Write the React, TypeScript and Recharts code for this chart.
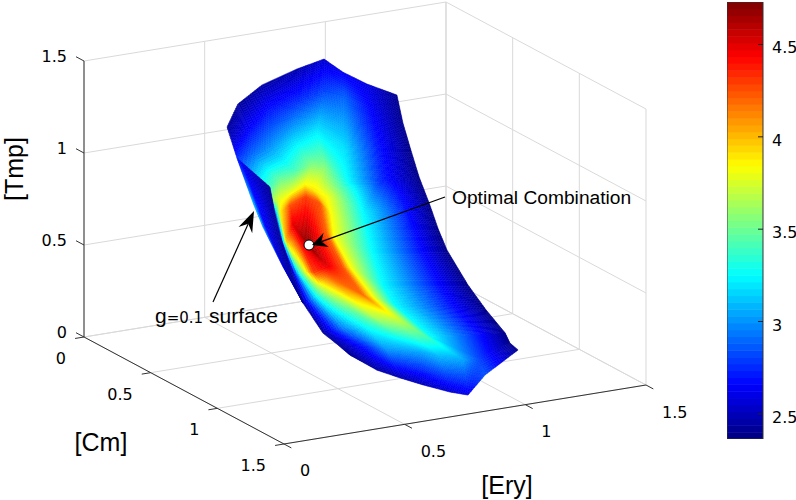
import React from "react";
import { ScatterChart, Scatter, XAxis, YAxis } from "recharts";

const axisTicks = [0, 0.5, 1, 1.5];
const colorTicks = [2.5, 3, 3.5, 4, 4.5];
const colorMin = 2.364;
const colorMax = 4.73;

// main sheet: one Cm per mesh row, Ery / Tmp / value per mesh vertex
const surfaceCm = [0.3, 0.3, 0.45, 0.45, 0.6, 0.6, 0.75, 0.9, 1.05, 1.2, 1.35, 1.35];
const surfaceEry = [
  [0.427, 0.472, 0.572, 0.717, 0.829, 0.907, 1.007, 1.131],
  [0.448, 0.522, 0.605, 0.721, 0.833, 0.916, 1.028, 1.156],
  [0.385, 0.448, 0.522, 0.617, 0.717, 0.833, 0.97, 1.106],
  [0.522, 0.564, 0.626, 0.696, 0.75, 0.849, 0.986, 1.14],
  [0.448, 0.481, 0.53, 0.584, 0.617, 0.675, 0.825, 1.102],
  [0.46, 0.481, 0.522, 0.588, 0.646, 0.692, 0.841, 1.135],
  [0.406, 0.423, 0.452, 0.514, 0.593, 0.622, 0.779, 1.09],
  [0.365, 0.394, 0.452, 0.514, 0.576, 0.605, 0.742, 1.094],
  [0.327, 0.381, 0.406, 0.439, 0.576, 0.617, 0.709, 1.086],
  [0.327, 0.406, 0.46, 0.543, 0.634, 0.729, 0.783, 1.082],
  [0.307, 0.427, 0.51, 0.646, 0.729, 0.825, 0.895, 1.019],
  [0.356, 0.468, 0.564, 0.659, 0.771, 0.845, 0.916, 1.053],
];
const surfaceTmp = [
  [1.166, 1.282, 1.364, 1.42, 1.45, 1.362, 1.276, 1.19],
  [1.075, 1.146, 1.21, 1.25, 1.27, 1.225, 1.13, 1.032],
  [1.065, 1.068, 1.09, 1.113, 1.13, 1.024, 0.984, 0.954],
  [0.878, 0.908, 0.948, 0.96, 0.938, 0.83, 0.806, 0.801],
  [0.882, 0.874, 0.907, 0.934, 0.899, 0.843, 0.73, 0.714],
  [0.808, 0.809, 0.838, 0.867, 0.822, 0.747, 0.645, 0.582],
  [0.704, 0.728, 0.803, 0.676, 0.729, 0.696, 0.597, 0.53],
  [0.619, 0.613, 0.606, 0.625, 0.607, 0.601, 0.473, 0.398],
  [0.522, 0.548, 0.608, 0.634, 0.512, 0.492, 0.429, 0.322],
  [0.417, 0.428, 0.497, 0.453, 0.422, 0.331, 0.292, 0.256],
  [0.414, 0.378, 0.343, 0.303, 0.264, 0.222, 0.218, 0.273],
  [0.349, 0.243, 0.18, 0.122, 0.059, 0.027, 0.121, 0.228],
];
const surfaceValue = [
  [2.42, 2.42, 2.45, 2.47, 2.55, 2.62, 2.6, 2.4],
  [2.55, 2.65, 2.72, 2.75, 2.82, 2.88, 2.65, 2.4],
  [2.75, 2.9, 3.0, 3.15, 3.22, 3.18, 2.72, 2.38],
  [3.4, 3.5, 3.4, 3.55, 3.55, 3.25, 2.75, 2.38],
  [3.6, 3.8, 3.8, 3.85, 3.9, 3.85, 3.25, 2.38],
  [2.9, 3.85, 4.25, 4.3, 4.25, 3.85, 3.25, 2.38],
  [2.5, 4.0, 4.5, 4.73, 4.2, 3.85, 3.25, 2.38],
  [2.42, 3.3, 4.3, 4.5, 4.25, 3.85, 3.25, 2.38],
  [2.42, 3.25, 3.85, 4.2, 4.2, 3.85, 3.25, 2.38],
  [2.42, 2.95, 3.45, 3.65, 3.7, 3.5, 3.25, 2.38],
  [2.42, 2.75, 3.0, 3.05, 3.1, 3.05, 2.8, 2.38],
  [2.42, 2.45, 2.47, 2.5, 2.55, 2.6, 2.85, 2.4],
];

// the folded flap along the left edge of the sheet
const flapCm = 0.6;
const flapEry = [
  [0.302, 0.329, 0.439],
  [0.369, 0.387, 0.46],
  [0.41, 0.424, 0.481],
  [0.493, 0.5, 0.53],
  [0.576, 0.576, 0.576],
];
const flapTmp = [
  [1.141, 1.104, 0.954],
  [0.882, 0.867, 0.808],
  [0.742, 0.73, 0.684],
  [0.508, 0.5, 0.467],
  [0.294, 0.294, 0.294],
];
const flapValue = [
  [2.7, 2.6, 2.42],
  [3.15, 2.7, 2.42],
  [3.1, 2.65, 2.42],
  [2.7, 2.5, 2.42],
  [2.42, 2.42, 2.42],
];

const optimal = { ery: 0.518, cm: 0.75, tmp: 0.68 };

// ---------- view of the 3-D box ----------
const view = {
  ox: 84, oy: 337,
  eryX: 241.33, eryY: -39.33,
  cmX: 133.33, cmY: 71.33,
  tmpY: -184,
};
const project = (ery: number, cm: number, tmp: number) => ({
  x: view.ox + view.eryX * ery + view.cmX * cm,
  y: view.oy + view.eryY * ery + view.cmY * cm + view.tmpY * tmp,
});

const W = 796;
const H = 500;
const GRID = "#d9d9d9";
const AXIS = "#333333";
const TICK_FONT = "'DejaVu Sans', sans-serif";
const TEXT_FONT = "'Liberation Sans', Arial, sans-serif";

type P3 = [number, number, number];
const seg = (a: P3, b: P3) => [project(...a), project(...b)];

const gridSegments: { x: number; y: number }[][] = [];
for (const v of axisTicks) {
  gridSegments.push(seg([v, 0, 0], [v, 0, 1.5]));
  gridSegments.push(seg([0, 0, v], [1.5, 0, v]));
  gridSegments.push(seg([1.5, v, 0], [1.5, v, 1.5]));
  gridSegments.push(seg([1.5, 0, v], [1.5, 1.5, v]));
  gridSegments.push(seg([v, 0, 0], [v, 1.5, 0]));
  gridSegments.push(seg([0, v, 0], [1.5, v, 0]));
}
const axisSegments: { x: number; y: number }[][] = [
  seg([0, 0, 0], [0, 0, 1.5]),
  seg([0, 0, 0], [0, 1.5, 0]),
  seg([0, 1.5, 0], [1.5, 1.5, 0]),
];
for (const v of axisTicks) {
  axisSegments.push(seg([0, -0.06, v], [0, 0, v]));
  axisSegments.push(seg([-0.037, v, 0], [0, v, 0]));
  axisSegments.push(seg([v, 1.5, 0], [v, 1.555, 0]));
}

const jet = (v: number) => {
  const t = (v - colorMin) / (colorMax - colorMin);
  const c = (n: number) => Math.round(255 * Math.max(0, Math.min(1, 1.5 - Math.abs(4 * t - n))));
  return `rgb(${c(3)},${c(2)},${c(1)})`;
};

const flatten = (ery: number[][], cmOf: (r: number) => number, tmp: number[][]) =>
  ery.flatMap((row, r) => row.map((e, c) => project(e, cmOf(r), tmp[r][c])));

const paintMesh = (values: number[][]) => (p: any) => {
  const pts: { x: number; y: number }[] = p.points;
  const rows = values.length;
  const cols = values[0].length;
  const polys: React.ReactNode[] = [];
  const at = (r: number, c: number) => pts[r * cols + c];
  for (let r = 0; r < rows - 1; r++) {
    for (let c = 0; c < cols - 1; c++) {
      const a = at(r, c), b = at(r, c + 1), d = at(r + 1, c), e = at(r + 1, c + 1);
      const va = values[r][c], vb = values[r][c + 1], vd = values[r + 1][c], ve = values[r + 1][c + 1];
      const wide = Math.max(Math.hypot(a.x - b.x, a.y - b.y), Math.hypot(d.x - e.x, d.y - e.y));
      const tall = Math.max(Math.hypot(a.x - d.x, a.y - d.y), Math.hypot(b.x - e.x, b.y - e.y));
      const NU = Math.max(2, Math.min(30, Math.ceil(wide / 2.5)));
      const NW = Math.max(2, Math.min(24, Math.ceil(tall / 2.5)));
      const pos = (u: number, w: number) => {
        const x = (1 - w) * ((1 - u) * a.x + u * b.x) + w * ((1 - u) * d.x + u * e.x);
        const y = (1 - w) * ((1 - u) * a.y + u * b.y) + w * ((1 - u) * d.y + u * e.y);
        return `${x.toFixed(2)},${y.toFixed(2)}`;
      };
      for (let i = 0; i < NW; i++) {
        for (let j = 0; j < NU; j++) {
          const u0 = j / NU, u1 = (j + 1) / NU, w0 = i / NW, w1 = (i + 1) / NW;
          const um = (u0 + u1) / 2, wm = (w0 + w1) / 2;
          const v = (1 - wm) * ((1 - um) * va + um * vb) + wm * ((1 - um) * vd + um * ve);
          const col = jet(v);
          polys.push(
            <polygon
              key={`${r}-${c}-${i}-${j}`}
              points={`${pos(u0, w0)} ${pos(u1, w0)} ${pos(u1, w1)} ${pos(u0, w1)}`}
              fill={col}
              stroke={col}
              strokeWidth={0.5}
            />
          );
        }
      }
    }
  }
  return <g>{polys}</g>;
};

const drawArrow = (headLen: number, notch: number, halfWidth: number, width: number) => (p: any) => {
  const [s, t] = p.points as { x: number; y: number }[];
  const L = Math.hypot(t.x - s.x, t.y - s.y);
  const ux = (t.x - s.x) / L, uy = (t.y - s.y) / L;
  const nx = -uy, ny = ux;
  const wing = (sgn: number) => `${t.x - ux * headLen + sgn * nx * halfWidth},${t.y - uy * headLen + sgn * ny * halfWidth}`;
  return (
    <g>
      <line x1={s.x} y1={s.y} x2={t.x - ux * notch} y2={t.y - uy * notch} stroke="#000" strokeWidth={width} />
      <polygon points={`${t.x},${t.y} ${wing(1)} ${t.x - ux * notch},${t.y - uy * notch} ${wing(-1)}`} fill="#000" />
    </g>
  );
};

const Nothing = () => <g />;

type Label = {
  x: number; y: number; text: string; anchor?: string; font?: string; size?: number; rotate?: number;
};
const LabelShape = (props: any) => {
  const d: Label = props.payload ?? props;
  const { cx, cy } = props;
  return (
    <text
      x={cx}
      y={cy}
      textAnchor={d.anchor ?? "middle"}
      dominantBaseline="central"
      fontFamily={d.font ?? TICK_FONT}
      fontSize={d.size ?? 16}
      fill="#000"
      transform={d.rotate ? `rotate(${d.rotate} ${cx} ${cy})` : undefined}
    >
      {d.text}
    </text>
  );
};

const fmt = (v: number) => String(v);
const labels: Label[] = [
  ...axisTicks.map((v) => {
    const p = project(0, 0, v);
    return { x: p.x - 17, y: p.y - 5, text: fmt(v), anchor: "end" };
  }),
  ...axisTicks.map((v) => {
    const p = project(0, v, 0);
    return { x: p.x - 18, y: p.y + 21.5, text: fmt(v), anchor: "end" };
  }),
  ...axisTicks.map((v) => {
    const p = project(v, 1.5, 0);
    return { x: p.x + 16, y: p.y + 27, text: fmt(v), anchor: "start" };
  }),
  { x: 14, y: 169, text: "[Tmp]", font: TEXT_FONT, size: 25, rotate: -90 },
  { x: 101, y: 442, text: "[Cm]", font: TEXT_FONT, size: 25 },
  { x: 507, y: 485, text: "[Ery]", font: TEXT_FONT, size: 25 },
  { x: 452, y: 197, text: "Optimal Combination", font: TEXT_FONT, size: 19.2, anchor: "start" },
];

const gLabelAnchor = [{ x: 155, y: 323 }];
const GLabel = (props: any) => (
  <text x={props.cx} y={props.cy} fontFamily={TEXT_FONT} fontSize={21} fill="#000">
    g
    <tspan fontFamily={TICK_FONT} fontSize={15}>=0.1</tspan>
    <tspan> surface</tspan>
  </text>
);

const optimalArrow = [{ x: 445, y: 197 }, { x: 312, y: 245 }];
const surfaceArrow = [{ x: 213, y: 302 }, { x: 254, y: 211 }];

const optimalPoint = [project(optimal.ery, optimal.cm, optimal.tmp)];
const MarkerShape = (props: any) => (
  <circle cx={props.cx} cy={props.cy} r={5} fill="#fff" stroke="#000" strokeWidth={1} />
);

const colorLevels = Array.from({ length: 64 }, (_, i) => ({
  y1: colorMin + ((colorMax - colorMin) * i) / 64,
  y2: colorMin + ((colorMax - colorMin) * (i + 1)) / 64,
}));
const colorCorners = colorLevels.flatMap((l) => [
  { x: 0, y: l.y1 },
  { x: 1, y: l.y2 },
]);
const colorTickMarks = colorTicks.map((y) => ({ x: 1, y }));

const paintColorbar = (p: any) => {
  const pts: { x: number; y: number }[] = p.points;
  const out: React.ReactNode[] = [];
  for (let i = 0; i + 1 < pts.length; i += 2) {
    const a = pts[i], b = pts[i + 1];
    const col = jet((colorCorners[i].y + colorCorners[i + 1].y) / 2);
    out.push(
      <rect
        key={i}
        x={Math.min(a.x, b.x)}
        y={Math.min(a.y, b.y)}
        width={Math.abs(b.x - a.x)}
        height={Math.abs(b.y - a.y) + 0.5}
        fill={col}
      />
    );
  }
  const first = pts[0], last = pts[pts.length - 1];
  out.push(
    <rect
      key="border"
      x={first.x}
      y={Math.min(first.y, last.y)}
      width={last.x - first.x}
      height={Math.abs(last.y - first.y)}
      fill="none"
      stroke="#333"
      strokeWidth={1}
    />
  );
  return <g>{out}</g>;
};

const ColorTickMark = (props: any) => (
  <line x1={props.cx - 5} y1={props.cy} x2={props.cx} y2={props.cy} stroke="#222" strokeWidth={1} />
);

const ColorTick = (props: any) => {
  const { x, y, payload } = props;
  return (
    <text x={x + 9} y={y + 3.5} dominantBaseline="central" fontFamily={TICK_FONT} fontSize={16} fill="#000">
      {String(payload.value)}
    </text>
  );
};

export default function App() {
  const line = (d: { x: number; y: number }[], key: string, stroke: string, w = 1) => (
    <Scatter
      key={key}
      data={d}
      isAnimationActive={false}
      shape={Nothing}
      line={{ stroke, strokeWidth: w }}
      lineType="joint"
    />
  );
  return (
    <div style={{ position: "absolute", left: 0, top: 0, width: W, height: H, background: "#fff" }}>
      <div style={{ position: "absolute", left: 0, top: 0 }}>
        <ScatterChart width={W} height={H} margin={{ top: 0, right: 0, bottom: 0, left: 0 }}>
          <XAxis type="number" dataKey="x" domain={[0, W]} hide />
          <YAxis type="number" dataKey="y" domain={[0, H]} reversed hide />
          {gridSegments.map((s, i) => line(s, `g${i}`, GRID))}
          {axisSegments.map((s, i) => line(s, `a${i}`, AXIS))}
          <Scatter
            data={flatten(surfaceEry, (r) => surfaceCm[r], surfaceTmp)}
            isAnimationActive={false}
            shape={Nothing}
            line={paintMesh(surfaceValue)}
            lineType="joint"
          />
          <Scatter
            data={flatten(flapEry, () => flapCm, flapTmp)}
            isAnimationActive={false}
            shape={Nothing}
            line={paintMesh(flapValue)}
            lineType="joint"
          />
          <Scatter data={optimalPoint} isAnimationActive={false} shape={MarkerShape} />
          <Scatter data={optimalArrow} isAnimationActive={false} shape={Nothing} line={drawArrow(15, 10, 7.5, 1.2)} lineType="joint" />
          <Scatter data={surfaceArrow} isAnimationActive={false} shape={Nothing} line={drawArrow(21, 14, 7.5, 1.2)} lineType="joint" />
          <Scatter data={labels} isAnimationActive={false} shape={LabelShape} />
          <Scatter data={gLabelAnchor} isAnimationActive={false} shape={GLabel} />
        </ScatterChart>
      </div>
      <div style={{ position: "absolute", left: 727, top: 2 }}>
        <ScatterChart width={69} height={437} margin={{ top: 0, right: 0, bottom: 0, left: 0 }}>
          <XAxis type="number" dataKey="x" domain={[0, 1]} hide />
          <Scatter
            data={colorCorners}
            isAnimationActive={false}
            shape={Nothing}
            line={paintColorbar}
            lineType="joint"
          />
          <Scatter data={colorTickMarks} isAnimationActive={false} shape={ColorTickMark} />
          <YAxis
            type="number"
            dataKey="y"
            orientation="right"
            width={33}
            domain={[colorMin, colorMax]}
            ticks={colorTicks}
            interval={0}
            axisLine={false}
            tickLine={false}
            tickSize={0}
            tickMargin={0}
            tick={ColorTick}
          />
        </ScatterChart>
      </div>
    </div>
  );
}
